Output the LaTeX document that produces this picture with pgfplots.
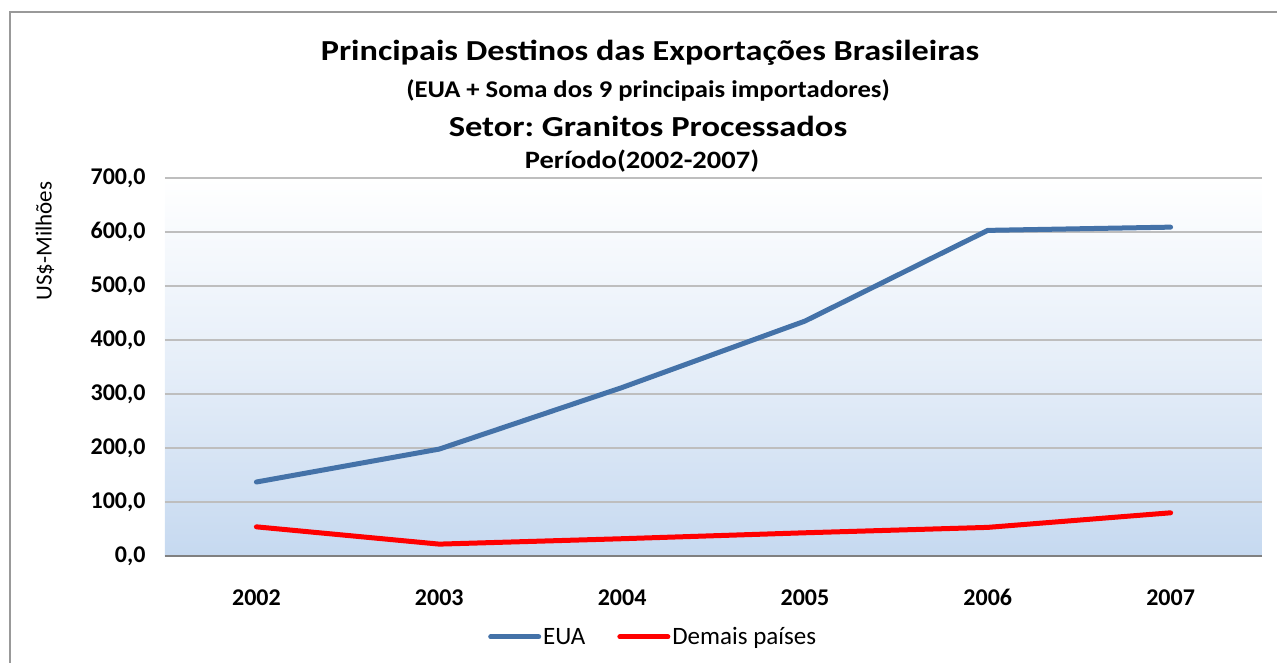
\documentclass[border=0pt]{standalone}
\usepackage{pgfplots}
\pgfplotsset{compat=1.18}
\usepackage{fontspec}
\setmainfont{Carlito}
\definecolor{euablue}{RGB}{68,114,168}
\definecolor{bgblue}{RGB}{198,217,240}
\definecolor{gridgray}{RGB}{190,190,190}
\frenchspacing
\begin{document}
\begin{tikzpicture}[x=1pt,y=1pt]
\begin{axis}[
  scale only axis, width=1097pt, height=378pt,
  xmin=-0.5, xmax=5.5, ymin=0, ymax=700,
  xtick={0,1,2,3,4,5},
  xticklabels={2002,2003,2004,2005,2006,2007},
  ytick={0,100,200,300,400,500,600,700},
  yticklabels={0{,}0,100{,}0,200{,}0,300{,}0,400{,}0,500{,}0,600{,}0,700{,}0},
  ymajorgrids, grid style={gridgray, line width=1.5pt},
  major tick length=0pt,
  axis x line*=bottom, axis y line*=left,
  x axis line style={gray, line width=2pt, -},
  y axis line style={draw=none},
  xticklabel style={font=\fontsize{24}{27}\selectfont\bfseries, yshift=-30pt},
  yticklabel style={font=\fontsize{24}{27}\selectfont\bfseries, xshift=-16pt},
  axis background/.style={shade, top color=white, bottom color=bgblue, middle color=bgblue!45!white},
  legend style={at={(0.445,-0.214)}, anchor=center, draw=none, fill=none, legend columns=2,
    font=\fontsize{25}{28}\selectfont, /tikz/every even column/.append style={column sep=30pt}},
  legend image code/.code={\draw[#1, line width=5pt, line cap=round] (0pt,0pt) -- (48pt,0pt);},
  clip=false,
]
\addplot[euablue, line width=5pt, line join=round, line cap=round] coordinates {(0,137) (1,198) (2,312) (3,435) (4,603) (5,609)};
\addlegendentry{EUA}
\addplot[red, line width=5pt, line join=round, line cap=round] coordinates {(0,54) (1,22) (2,32) (3,43) (4,53) (5,80)};
\addlegendentry{Demais países}
\end{axis}
\begin{scope}[shift={(-165,-106)}]
\path[use as bounding box] (0,0) rectangle (1277,662);
\draw[gray!80, line width=1.5pt] (10,-5) -- (10,650) -- (1280,650);
\node[rotate=90, anchor=east, font=\fontsize{23}{26}\selectfont] at (45,484) {US\$-Milhões};
\node[xscale=1.18, font=\fontsize{29}{32}\selectfont\bfseries] at (650,609) {Principais Destinos das Exportações Brasileiras};
\node[xscale=1.11, font=\fontsize{24}{27}\selectfont\bfseries] at (648,572) {(EUA + Soma dos 9 principais importadores)};
\node[xscale=1.19, font=\fontsize{29}{32}\selectfont\bfseries] at (648,536) {Setor: Granitos Processados};
\node[xscale=1.14, font=\fontsize{25}{28}\selectfont\bfseries] at (642,501) {Período(2002-2007)};
\end{scope}
\end{tikzpicture}
\end{document}
